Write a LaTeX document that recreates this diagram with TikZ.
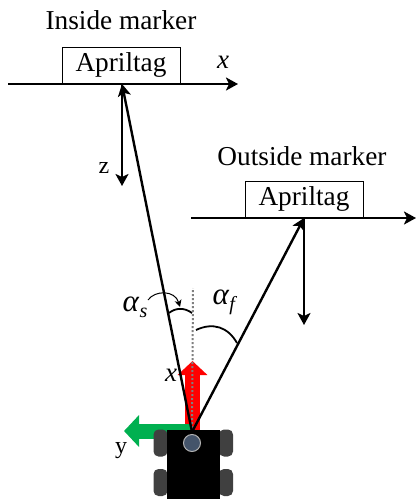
\documentclass[tikz,border=0pt]{standalone}
\usepackage{fontspec}
\setmainfont{Liberation Serif}
\usepackage{tikz}
\usetikzlibrary{arrows.meta,positioning,calc}
\definecolor{wheelgray}{HTML}{404040}
\definecolor{hubblue}{HTML}{44546A}
\definecolor{axisgreen}{HTML}{00B050}
\newcommand{\anglesym}[1]{\textit{α}\raisebox{-6pt}{\fontsize{20}{22}\selectfont\textit{#1}}}
\tikzset{
  tagbox/.style={
    draw=black,
    line width=1pt,
    minimum width=118pt,
    minimum height=36pt,
    inner sep=0pt,
    font=\fontsize{27.3}{30}\selectfont
  },
  title/.style={font=\fontsize{27.3}{30}\selectfont, inner sep=0pt},
  smalllabel/.style={font=\fontsize{24}{28}\selectfont, inner sep=0pt},
  mathlabel/.style={font=\fontsize{27}{30}\selectfont, inner sep=0pt},
  anglelabel/.style={font=\fontsize{31}{34}\selectfont, inner sep=0pt},
  line/.style={-{Stealth[length=12pt,width=13pt,inset=3pt]}, line width=2.4pt, draw=black},
  plainarc/.style={line width=1.8pt, draw=black},
  wheel/.style={fill=wheelgray, rounded corners=5pt, minimum width=14pt, minimum height=27pt, inner sep=0pt}
}
\begin{document}
\begin{tikzpicture}[x=1pt,y=-1pt]
\useasboundingbox (0,0) rectangle (416,499);
% inside marker
\node[tagbox] (intag) at (121,65) {Apriltag};
\node[title] (intitle) at (121,20) {Inside marker};
\coordinate (inleft) at (8,84);
\coordinate (inright) at (238,84);
\coordinate (infoot) at (122,84);
\coordinate (inz) at (122,186);
\node[smalllabel] (zlabel) at (104,168) {z};
\node[mathlabel] (xin) at (223,62) {\textit{x}};
% outside marker
\node[tagbox] (outtag) at (304,199) {Apriltag};
\node[title] (outtitle) at (302,156) {Outside marker};
\coordinate (outleft) at (191,218);
\coordinate (outright) at (416,218);
\coordinate (outfoot) at (304,218);
\coordinate (outz) at (304,325);
% robot axes
\coordinate (origin) at (192,432);
\coordinate (dotend) at (193,288);
\coordinate (redstart) at (192.5,431);
\coordinate (redtip) at (192.5,361);
\coordinate (greenstart) at (192,431);
\coordinate (greentip) at (124,431);

\draw[-{Triangle[length=14pt,width=29pt]}, line width=15pt, draw=red] (redstart) -- (redtip);
\draw[-{Triangle[length=15pt,width=31pt]}, line width=15pt, draw=axisgreen] (greenstart) -- (greentip);
\draw[line width=2pt, gray, dash pattern=on 2pt off 2pt] (origin) -- (dotend);

\draw[line] (inleft) -- (inright);
\draw[line] (outleft) -- (outright);
\draw[line] (infoot) -- (inz);
\draw[line] (outfoot) -- (outz);
\draw[line] (origin) -- (infoot);
\draw[line] (origin) -- (outfoot);

% robot
\node[wheel] (wheela) at (160.5,443) {};
\node[wheel] (wheelb) at (160.5,482.5) {};
\node[wheel] (wheelc) at (226,443) {};
\node[wheel] (wheeld) at (226,482.5) {};
\node[fill=black, minimum width=53pt, minimum height=69pt, inner sep=0pt] (body) at (193.5,464.5) {};
\node[circle, fill=hubblue, draw=gray!60, line width=1pt, minimum size=17pt, inner sep=0pt] (hub) at (192,443) {};

% angles
\coordinate (sstart) at (169,313);
\coordinate (send) at (192,313);
\coordinate (fstart) at (196,330);
\coordinate (fend) at (237,343);
\coordinate (curlstart) at (148,300);
\coordinate (curlend) at (180,307);
\draw[plainarc] (sstart) .. controls (175,308) and (184,307) .. (send);
\draw[plainarc] (fstart) .. controls (213,322) and (228,327) .. (fend);
\draw[-{Stealth[length=7pt,width=7pt,inset=2pt]}, line width=1pt] (curlstart) .. controls (155,290) and (175,290) .. (curlend);
\node[anglelabel] (alphas) at (135,307) {\anglesym{s}};
\node[anglelabel] (alphaf) at (225,302) {\anglesym{f}};
\node[mathlabel] (xrobot) at (171,375) {\textit{x}};
\node[smalllabel] (ylabel) at (121,451) {y};
\end{tikzpicture}
\end{document}
